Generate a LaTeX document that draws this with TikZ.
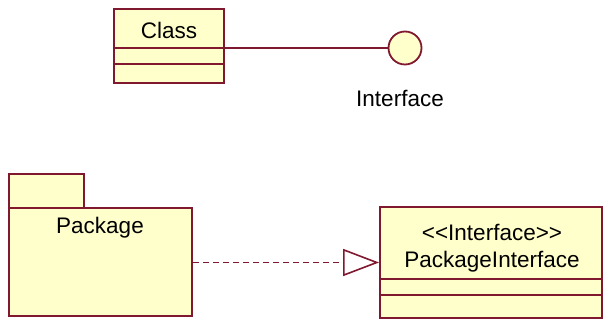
\documentclass[tikz,border=0pt]{standalone}
\usepackage{fontspec}
\setmainfont{Liberation Sans}
\usetikzlibrary{arrows.meta, positioning, calc}
\definecolor{umlline}{RGB}{128,24,48}
\definecolor{umlfill}{RGB}{255,255,204}

\begin{document}
\begin{tikzpicture}[
    x=1pt,y=-1pt,
    umlbox/.style={draw=umlline,line width=1.8pt,fill=umlfill,inner sep=0pt},
    lbl/.style={font=\fontsize{22.5}{26}\selectfont,inner sep=0pt},
    sep/.style={draw=umlline,line width=1.8pt},
    realize/.style={draw=umlline,line width=1.8pt,dash pattern=on 6pt off 4pt,
      -{Triangle[open,length=36pt,width=27pt,line width=1.6pt]}}
  ]
  \useasboundingbox (0,0) rectangle (603,320);

  % class with two compartments
  \node[umlbox,minimum width=110pt,minimum height=74pt] (cls) at (169,46) {};
  \node[lbl] (clsname) at (169,30) {Class};
  \draw[sep] ($(cls.north west)+(0,40)$) -- ($(cls.north east)+(0,40)$);
  \draw[sep] ($(cls.north west)+(0,56)$) -- ($(cls.north east)+(0,56)$);

  % interface lollipop
  \node[umlbox,circle,minimum size=33pt] (ifc) at (405,48) {};
  \node[lbl] (ifcname) at (400,98) {Interface};
  \draw[sep] (cls.east |- ifc.west) -- (ifc.west);

  % package
  \node[umlbox,minimum width=75pt,minimum height=34pt] (tab) at (46.5,191) {};
  \node[umlbox,minimum width=183pt,minimum height=108pt] (pkg) at (100.5,262) {};
  \node[lbl] (pkgname) at (100,228) {Package};

  % stereotyped interface
  \node[umlbox,minimum width=222pt,minimum height=111pt] (pif) at (491,262.5) {};
  \node[lbl] (pifstereo) at (492,232) {{<}{<}Interface{>}{>}};
  \node[lbl] (pifname) at (492,262) {PackageInterface};
  \draw[sep] ($(pif.north west)+(0,73)$) -- ($(pif.north east)+(0,73)$);
  \draw[sep] ($(pif.north west)+(0,89)$) -- ($(pif.north east)+(0,89)$);

  \draw[realize] (pkg.east |- pif.west) -- (pif.west);
\end{tikzpicture}
\end{document}
